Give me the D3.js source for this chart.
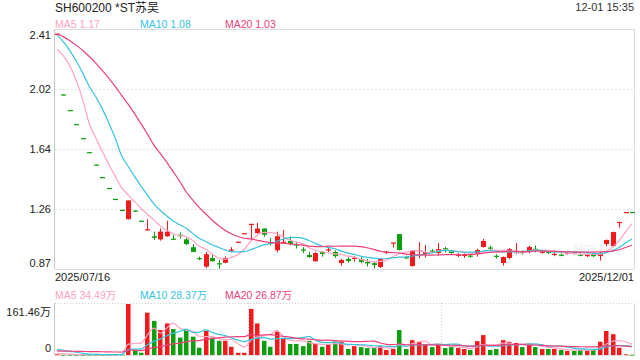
<!DOCTYPE html>
<html><head><meta charset="utf-8">
<script src="https://cdn.jsdelivr.net/npm/d3@7"></script>
<style>
body{margin:0;background:#fff}
svg{display:block}
text{font-family:Arial,"Liberation Sans","Noto Sans CJK SC",sans-serif}
</style>
</head><body>
<svg id="c" width="640" height="360"></svg>
<script>
// ---------- data ----------
const title = "SH600200 *ST苏吴";
const timeLabel = "12-01 15:35";
const dateLabels = ["2025/07/16", "2025/12/01"];
const priceTickLabels = ["2.41", "2.02", "1.64", "1.26", "0.87"];
const priceDomain = [0.87, 2.41];
const volMax = 161.46;
const volTickLabels = ["161.46万", "0"];
const maNames = ["MA5", "MA10", "MA20"];
const maPeriods = [5, 10, 20];
const priceMALegend = ["1.17", "1.08", "1.03"];
const volMALegend = ["34.49万", "28.37万", "26.87万"];

// closes / volumes of the 19 sessions before the first shown one (feed the moving averages)
const priorCloses = [2.36, 2.38, 2.40, 2.37, 2.39, 2.38, 2.40, 2.39, 2.38, 2.39,
                     2.44, 2.46, 2.47, 2.47, 2.48, 2.20, 2.22, 2.28, 2.32];
const priorVolumes = [8, 8, 8, 8, 8, 8, 8, 8, 8, 8, 30, 32, 28, 35, 25, 8, 6, 5, 4];

const opens = [2.375,1.99,1.89,1.80,1.71,1.62,1.54,1.46,1.39,1.32,
  1.25,1.19,1.245,1.18,1.12,1.08,1.06,1.08,1.065,1.09,
  1.06,1.01,0.94,0.885,0.94,0.907,0.91,0.99,1.045,1.10,
  1.16,1.10,1.13,1.04,0.99,1.04,1.05,1.03,0.995,0.96,
  0.92,0.98,0.992,0.979,0.908,0.934,0.94,0.934,0.915,0.908,
  0.883,0.978,1.04,1.094,0.945,0.889,0.988,0.966,0.988,0.973,
  1.003,0.985,0.958,0.957,0.956,0.966,1.011,1.008,0.955,0.908,
  0.941,0.976,0.982,0.979,1.0,0.978,0.981,0.964,0.962,0.971,
  0.975,0.962,0.957,0.96,0.953,1.03,1.017,1.172,1.236,1.236];
const highs = [2.38,1.99,1.89,1.80,1.71,1.62,1.54,1.46,1.39,1.32,
  1.25,1.31,1.245,1.18,1.19,1.11,1.13,1.18,1.09,1.105,
  1.07,1.03,0.95,0.98,0.96,0.93,0.95,1.01,1.045,1.10,
  1.16,1.165,1.13,1.07,1.11,1.12,1.08,1.045,1.01,0.98,
  0.98,0.985,1.01,0.99,0.935,0.946,0.953,0.946,0.934,0.915,
  0.941,0.985,1.04,1.094,0.955,0.99,1.043,1.024,0.998,1.037,
  1.011,0.99,0.973,0.97,0.968,1.0,1.063,1.02,0.965,0.95,
  1.005,1.037,0.99,1.02,1.02,0.99,0.985,0.975,0.97,0.98,
  0.98,0.97,0.965,0.965,0.98,1.06,1.11,1.172,1.236,1.236];
const lows = [2.375,1.99,1.89,1.80,1.71,1.62,1.54,1.46,1.39,1.32,
  1.25,1.19,1.24,1.18,1.12,1.06,1.055,1.08,1.06,1.07,
  1.025,0.98,0.93,0.88,0.92,0.875,0.91,0.98,1.045,1.10,
  1.055,1.10,1.08,1.025,0.98,1.035,1.025,1.005,0.975,0.945,
  0.92,0.952,0.98,0.945,0.895,0.915,0.921,0.91,0.889,0.876,
  0.88,0.97,1.011,0.992,0.94,0.889,0.941,0.947,0.975,0.96,
  0.979,0.97,0.95,0.945,0.945,0.953,1.011,0.995,0.94,0.895,
  0.935,0.97,0.965,0.973,0.98,0.972,0.97,0.955,0.955,0.965,
  0.965,0.955,0.95,0.95,0.928,1.02,1.015,1.14,1.236,1.236];
const closes = [2.38,1.99,1.89,1.80,1.71,1.62,1.54,1.46,1.39,1.32,
  1.25,1.31,1.24,1.18,1.125,1.07,1.11,1.11,1.06,1.08,
  1.03,0.98,0.935,0.965,0.92,0.904,0.94,0.995,1.045,1.10,
  1.16,1.13,1.09,1.035,1.08,1.045,1.03,1.02,0.99,0.947,
  0.972,0.966,0.996,0.953,0.928,0.921,0.942,0.915,0.906,0.896,
  0.934,0.982,1.04,0.992,0.941,0.985,0.992,0.979,0.985,0.998,
  0.999,0.973,0.962,0.961,0.952,0.992,1.05,1.004,0.952,0.947,
  0.998,0.98,0.978,1.011,0.996,0.981,0.978,0.967,0.958,0.974,
  0.972,0.958,0.96,0.956,0.973,1.056,1.107,1.172,1.236,1.236];
const volumes = [2,1,0.8,0.8,0.6,0.6,0.6,1.2,1.2,1.5,
  1.8,161.46,16,7,134,108,79,100,82,55,
  79,58,23,76,55,45,45,26,7,7,
  146,100,45,26,74,53,35,35,28,45,
  35,26,32,42,42,19,28,25,22,22,
  28,16,19,79,19,47,42,32,25,32,
  22,25,22,19,16,44,63,16,19,47,
  42,38,25,32,25,19,19,19,16,13,
  13,16,16,19,42,76,66,23,2,1];

// ---------- style ----------
const maColors = ["#ffa3c2", "#36c3df", "#ee4079"];
const upColor = "#f21b1b", downColor = "#0d9e0d";

// ---------- layout ----------
const P = {left: 55, right: 634, top: 29, bottom: 269};
const V = {top: 303, bottom: 355};
const n = closes.length;

const svg = d3.select("#c");
const x = d3.scaleLinear().domain([0, n - 1]).range([57, 632]);
const y = d3.scaleLinear().domain(priceDomain).range([P.bottom, P.top]);
const yv = d3.scaleLinear().domain([0, volMax]).range([V.bottom, V.top + 1]);

function isUp(i) {
  if (closes[i] > opens[i]) return true;
  if (closes[i] < opens[i]) return false;
  const prev = i > 0 ? closes[i - 1] : priorCloses[priorCloses.length - 1];
  return closes[i] > prev;
}
function movingAvg(prior, vals, p) {
  const all = prior.concat(vals);
  const off = prior.length;
  return vals.map((_, i) => d3.mean(all.slice(off + i - p + 1, off + i + 1)));
}

// ---------- header ----------
svg.append("text").attr("x", 55).attr("y", 12).attr("font-size", 12).attr("fill", "#222").text(title);
svg.append("text").attr("x", 634).attr("y", 11).attr("text-anchor", "end").attr("font-size", 11).attr("fill", "#333").text(timeLabel);
const legX = [55, 140, 225];
maNames.forEach((m, k) => {
  svg.append("text").attr("x", legX[k]).attr("y", 28).attr("font-size", 10.5).attr("fill", maColors[k]).text(m + " " + priceMALegend[k]);
  svg.append("text").attr("x", legX[k]).attr("y", 299).attr("font-size", 10.5).attr("fill", maColors[k]).text(m + " " + volMALegend[k]);
});

// ---------- price frame ----------
const g = svg.append("g");
const d0 = priceDomain[0], d1 = priceDomain[1];
[1, 2, 3].forEach(k => {
  const yy = Math.round(y(d0 + (d1 - d0) * k / 4)) + 0.5;
  g.append("line").attr("x1", P.left).attr("x2", P.right).attr("y1", yy).attr("y2", yy)
    .attr("stroke", "#e2e2e2").attr("stroke-dasharray", "2,2");
});
g.append("line").attr("x1", P.left).attr("x2", P.right).attr("y1", P.top + 0.5).attr("y2", P.top + 0.5).attr("stroke", "#dcdcdc");
g.append("line").attr("x1", P.left).attr("x2", P.right).attr("y1", P.bottom + 0.5).attr("y2", P.bottom + 0.5).attr("stroke", "#dcdcdc");
g.append("line").attr("x1", P.right + 0.5).attr("x2", P.right + 0.5).attr("y1", P.top).attr("y2", P.bottom).attr("stroke", "#dcdcdc");
g.append("line").attr("x1", P.left - 0.5).attr("x2", P.left - 0.5).attr("y1", P.top).attr("y2", P.bottom).attr("stroke", "#c8c8c8");

// y tick labels
priceTickLabels.forEach((t, k) => {
  const yy = Math.min(Math.max(y(d1 - (d1 - d0) * k / 4), P.top + 6), P.bottom - 6);
  svg.append("text").attr("x", 51).attr("y", yy).attr("dy", "0.35em").attr("text-anchor", "end")
    .attr("font-size", 11).attr("fill", "#222").text(t);
});

// watermark
svg.append("text").attr("x", 598).attr("y", 252).attr("text-anchor", "middle").attr("font-size", 12)
  .attr("fill", "#000").attr("opacity", 0.07).text("sina.com");

// candles
const bw = 5;
const cg = svg.append("g");
d3.range(n).forEach(i => {
  const col = isUp(i) ? upColor : downColor;
  const cx = Math.round(x(i));
  cg.append("line").attr("x1", cx + 0.5).attr("x2", cx + 0.5)
    .attr("y1", y(highs[i])).attr("y2", y(lows[i]) + 0.5).attr("stroke", col).attr("stroke-width", 1);
  const top = y(Math.max(opens[i], closes[i]));
  const h = Math.max(1.2, y(Math.min(opens[i], closes[i])) - top);
  cg.append("rect").attr("x", cx - 2).attr("width", bw).attr("y", top).attr("height", h).attr("fill", col);
});

// price moving averages
const line = d3.line().x((d, i) => x(i)).y(d => y(d)).curve(d3.curveMonotoneX);
maPeriods.forEach((p, k) => {
  svg.append("path").datum(movingAvg(priorCloses, closes, p)).attr("d", line)
    .attr("fill", "none").attr("stroke", maColors[k]).attr("stroke-width", 1.2);
});

// date labels
svg.append("text").attr("x", 55).attr("y", 281).attr("font-size", 11).attr("fill", "#222").text(dateLabels[0]);
svg.append("text").attr("x", 634).attr("y", 281).attr("text-anchor", "end").attr("font-size", 11).attr("fill", "#222").text(dateLabels[1]);

// ---------- volume frame ----------
const vg = svg.append("g");
vg.append("line").attr("x1", P.left).attr("x2", P.right).attr("y1", V.top + 0.5).attr("y2", V.top + 0.5)
  .attr("stroke", "#cfcfcf").attr("stroke-dasharray", "1,2");
[1, 2].forEach(k => {
  const xx = Math.round(P.left + (P.right - P.left) * k / 3) + 0.5;
  vg.append("line").attr("x1", xx).attr("x2", xx).attr("y1", V.top).attr("y2", V.bottom)
    .attr("stroke", "#cfcfcf").attr("stroke-dasharray", "1,2");
});
vg.append("line").attr("x1", P.left).attr("x2", P.right).attr("y1", V.bottom + 0.5).attr("y2", V.bottom + 0.5).attr("stroke", "#e2e2e2");
vg.append("line").attr("x1", P.right + 0.5).attr("x2", P.right + 0.5).attr("y1", V.top).attr("y2", V.bottom).attr("stroke", "#dcdcdc");
vg.append("line").attr("x1", P.left - 0.5).attr("x2", P.left - 0.5).attr("y1", V.top).attr("y2", V.bottom).attr("stroke", "#c8c8c8");

svg.append("text").attr("x", 51).attr("y", 312).attr("dy", "0.35em").attr("text-anchor", "end").attr("font-size", 11).attr("fill", "#222").text(volTickLabels[0]);
svg.append("text").attr("x", 51).attr("y", 348).attr("dy", "0.35em").attr("text-anchor", "end").attr("font-size", 11).attr("fill", "#222").text(volTickLabels[1]);

// volume bars
d3.range(n).forEach(i => {
  const cx = Math.round(x(i));
  const top = yv(volumes[i]);
  vg.append("rect").attr("x", cx - 2).attr("width", 4.5).attr("y", top)
    .attr("height", Math.max(0.8, V.bottom - top)).attr("fill", isUp(i) ? upColor : downColor);
});

// volume moving averages
const vline = d3.line().x((d, i) => x(i)).y(d => yv(d)).curve(d3.curveMonotoneX);
maPeriods.forEach((p, k) => {
  svg.append("path").datum(movingAvg(priorVolumes, volumes, p)).attr("d", vline)
    .attr("fill", "none").attr("stroke", maColors[k]).attr("stroke-width", 1.2);
});
</script>
</body></html>
